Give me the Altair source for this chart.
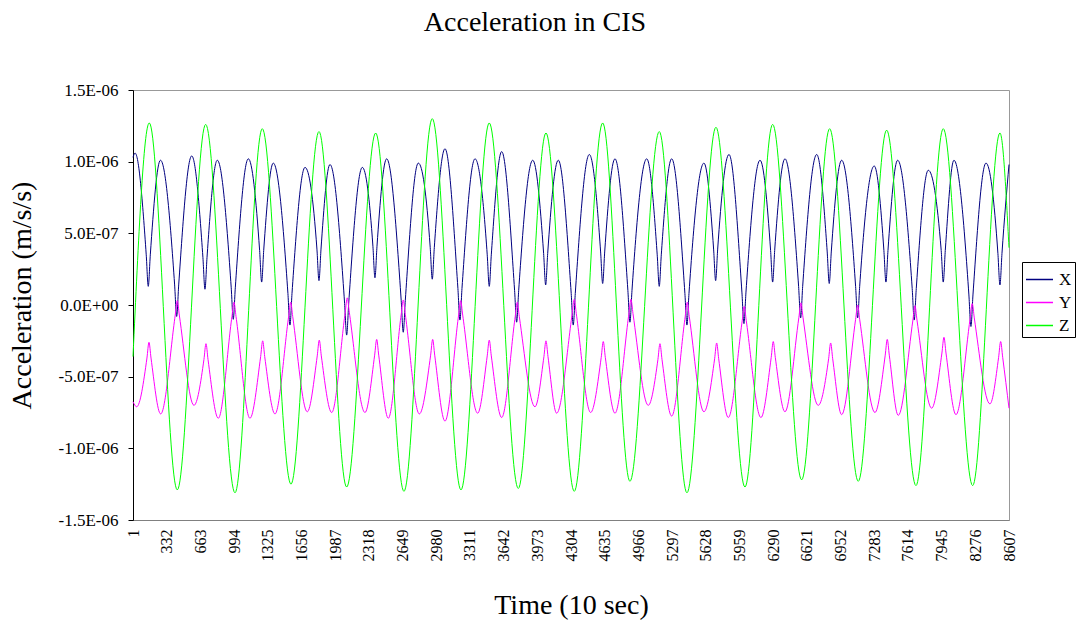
import altair as alt
import pandas as pd

FONT = "Liberation Serif"

# Sample number (one step = 10 s) and acceleration in units of 1e-6 m/s/s
X_TIME = [1, 21,
          131, 151, 171, 271, 410, 430, 450, 578, 688, 708, 728, 829,
          966, 986, 1006, 1134, 1245, 1265, 1285, 1379, 1523, 1543, 1563, 1691,
          1808, 1828, 1848, 1936, 2080, 2100, 2120, 2254, 2358, 2378, 2398, 2493,
          2636, 2656, 2676, 2804, 2921, 2941, 2961, 3066, 3193, 3213, 3233, 3361,
          3481, 3501, 3521, 3623, 3750, 3770, 3790, 3928, 4035, 4055, 4075, 4179,
          4306, 4326, 4346, 4484, 4595, 4615, 4635, 4736, 4863, 4883, 4903, 5048,
          5151, 5171, 5191, 5293, 5423, 5443, 5463, 5610, 5705, 5725, 5745, 5856,
          5983, 6003, 6023, 6161, 6265, 6285, 6305, 6406, 6540, 6560, 6580, 6718,
          6821, 6841, 6861, 6963, 7100, 7120, 7140, 7283, 7378, 7398, 7418, 7513,
          7656, 7676, 7696, 7814, 7941, 7961, 7981, 8066, 8213, 8233, 8253, 8381,
          8498, 8518, 8538, 8607]
X_ACC = [1.03, 1.06,
         0.35, 0.13, 0.35, 1.01, 0.14, -0.08, 0.14, 1.04, 0.33, 0.11, 0.33, 1.01,
         0.12, -0.10, 0.12, 1.02, 0.38, 0.16, 0.38, 0.99, 0.08, -0.14, 0.08, 0.96,
         0.39, 0.17, 0.39, 0.98, 0.01, -0.21, 0.01, 0.96, 0.41, 0.19, 0.41, 1.02,
         0.03, -0.19, 0.03, 0.99, 0.40, 0.18, 0.40, 1.09, 0.115, -0.105, 0.115, 1.02,
         0.35, 0.13, 0.35, 1.07, 0.10, -0.12, 0.10, 1.01, 0.36, 0.14, 0.36, 1.01,
         0.08, -0.14, 0.08, 1.05, 0.37, 0.15, 0.37, 1.02, 0.10, -0.12, 0.10, 1.02,
         0.35, 0.13, 0.35, 1.02, 0.08, -0.14, 0.08, 0.99, 0.39, 0.17, 0.39, 1.05,
         0.09, -0.13, 0.09, 1.01, 0.38, 0.16, 0.38, 1.02, 0.13, -0.09, 0.13, 1.05,
         0.37, 0.15, 0.37, 1.01, 0.13, -0.09, 0.13, 0.97, 0.38, 0.16, 0.38, 1.01,
         0.115, -0.105, 0.115, 0.94, 0.38, 0.16, 0.38, 1.01, 0.07, -0.15, 0.07, 0.99,
         0.36, 0.14, 0.36, 0.98]

Y_TIME = [1, 37,
          138, 158, 178, 273, 416, 436, 456, 600,
          698, 718, 738, 839, 973, 993, 1013, 1150,
          1255, 1275, 1295, 1396, 1530, 1550, 1570, 1713,
          1811, 1831, 1851, 1953, 2086, 2106, 2126, 2280,
          2375, 2395, 2415, 2509, 2636, 2656, 2676, 2814,
          2925, 2945, 2965, 3066, 3200, 3220, 3240, 3387,
          3481, 3501, 3521, 3623, 3756, 3776, 3796, 3950,
          4038, 4058, 4078, 4163, 4316, 4336, 4356, 4497,
          4601, 4621, 4641, 4736, 4873, 4893, 4913, 5063,
          5158, 5178, 5198, 5293, 5426, 5446, 5466, 5610,
          5715, 5735, 5755, 5849, 5986, 6006, 6026, 6170,
          6271, 6291, 6311, 6406, 6543, 6563, 6583, 6733,
          6835, 6855, 6875, 6963, 7100, 7120, 7140, 7290,
          7391, 7411, 7431, 7519, 7663, 7683, 7703, 7847,
          7948, 7968, 7988, 8086, 8226, 8246, 8266, 8420,
          8505, 8525, 8545, 8607]
Y_ACC = [-0.675, -0.71,
         -0.37, -0.26, -0.37, -0.76, -0.07, 0.03, -0.07, -0.70,
         -0.38, -0.27, -0.38, -0.79, -0.08, 0.02, -0.08, -0.79,
         -0.36, -0.25, -0.36, -0.76, -0.08, 0.02, -0.08, -0.745,
         -0.355, -0.245, -0.355, -0.75, -0.05, 0.05, -0.05, -0.75,
         -0.35, -0.24, -0.35, -0.79, -0.065, 0.035, -0.065, -0.76,
         -0.35, -0.24, -0.35, -0.81, -0.07, 0.03, -0.07, -0.755,
         -0.355, -0.245, -0.355, -0.785, -0.08, 0.02, -0.08, -0.71,
         -0.36, -0.25, -0.36, -0.755, -0.06, 0.04, -0.06, -0.75,
         -0.365, -0.255, -0.365, -0.755, -0.06, 0.04, -0.06, -0.70,
         -0.38, -0.27, -0.38, -0.775, -0.08, 0.02, -0.08, -0.745,
         -0.375, -0.265, -0.375, -0.785, -0.11, -0.01, -0.11, -0.785,
         -0.365, -0.255, -0.365, -0.745, -0.085, 0.015, -0.085, -0.70,
         -0.375, -0.265, -0.375, -0.765, -0.10, 0.0, -0.10, -0.75,
         -0.35, -0.24, -0.35, -0.77, -0.105, -0.005, -0.105, -0.72,
         -0.335, -0.225, -0.335, -0.765, -0.09, 0.01, -0.09, -0.69,
         -0.365, -0.255, -0.365, -0.72]

Z_TIME = [1, 161, 436, 715, 1003, 1271, 1553, 1828, 2100, 2385, 2663,
          2941, 3223, 3501, 3786, 4058, 4336, 4615, 4883, 5171, 5443,
          5728, 6013, 6285, 6570, 6845, 7126, 7405, 7693, 7961, 8250,
          8518, 8607]
Z_ACC = [-0.36, 1.27, -1.29, 1.26, -1.31, 1.23, -1.25, 1.21, -1.27, 1.20, -1.30,
         1.30, -1.29, 1.27, -1.28, 1.20, -1.30, 1.27, -1.23, 1.21, -1.31,
         1.24, -1.27, 1.26, -1.22, 1.23, -1.23, 1.22, -1.26, 1.23, -1.26,
         1.20, 0.40]

SERIES = ["X", "Y", "Z"]
COLORS = ["#000080", "#FF00FF", "#00FF00"]

TIME_TICKS = [1, 332, 663, 994, 1325, 1656, 1987, 2318, 2649, 2980, 3311,
              3642, 3973, 4304, 4635, 4966, 5297, 5628, 5959, 6290, 6621,
              6952, 7283, 7614, 7945, 8276, 8607]
ACC_TICKS = [-1.5e-6, -1.0e-6, -5e-7, 0.0, 5e-7, 1.0e-6, 1.5e-6]

rows = []
for name, times, accs in zip(SERIES, (X_TIME, Y_TIME, Z_TIME), (X_ACC, Y_ACC, Z_ACC)):
    for t, a in zip(times, accs):
        rows.append({"time": t, "acc": a * 1e-6, "axis": name})
df = pd.DataFrame(rows)

# Excel-style scientific labels such as 1.5E-06 and 0.0E+00
EXP = "floor(log(abs(datum.value)) / LN10 + 1e-6)"
SCI_LABEL = (
    "datum.value == 0 ? '0.0E+00' : "
    "(datum.value < 0 ? '-' : '') + "
    f"format(abs(datum.value) / pow(10, {EXP}), '.1f') + 'E-0' + (-{EXP})"
)

chart = (
    alt.Chart(df)
    .mark_line(interpolate="monotone", strokeWidth=1)
    .encode(
        x=alt.X(
            "time:Q",
            scale=alt.Scale(domain=[1, 8607], nice=False, zero=False),
            axis=alt.Axis(
                values=TIME_TICKS,
                format="d",
                labelAngle=270,
                labelFontSize=16,
                labelPadding=9,
                labelFlush=False,
                labelOverlap=False,
                ticks=False,
                grid=False,
                domainColor="#808080",
                title="Time (10 sec)",
                titleFontSize=28,
                titleY=93,
                titleBaseline="alphabetic",
            ),
        ),
        y=alt.Y(
            "acc:Q",
            scale=alt.Scale(domain=[-1.5e-6, 1.5e-6], nice=False, zero=False),
            axis=alt.Axis(
                values=ACC_TICKS,
                labelExpr=SCI_LABEL,
                labelFontSize=17,
                labelPadding=10,
                tickSize=5,
                tickColor="black",
                domainColor="black",
                grid=False,
                title="Acceleration (m/s/s)",
                titleFontSize=28,
                titleAngle=270,
                titleX=-103,
                titleY=205,
                titleAlign="center",
                titleBaseline="alphabetic",
            ),
        ),
        color=alt.Color(
            "axis:N",
            scale=alt.Scale(domain=SERIES, range=COLORS),
            legend=alt.Legend(
                title=None,
                orient="none",
                legendX=889,
                legendY=172,
                symbolType="stroke",
                symbolSize=729,
                symbolStrokeWidth=1.5,
                labelFont=FONT,
                labelFontSize=17,
                labelColor="black",
                labelOffset=5,
                strokeColor="black",
                fillColor="white",
                padding=3,
                rowPadding=0,
            ),
        ),
    )
    .properties(
        width=876,
        height=430,
        autosize=alt.AutoSizeParams(type="none"),
        padding={"left": 133, "top": 90, "right": 68, "bottom": 103},
        background="white",
        title=alt.TitleParams(
            "Acceleration in CIS",
            font=FONT,
            fontSize=28,
            fontWeight="normal",
            color="black",
            anchor="middle",
            dx=-36,
            offset=44,
        ),
    )
    .configure_view(stroke="#999999", strokeWidth=1)
    .configure_axis(
        labelFont=FONT,
        titleFont=FONT,
        labelColor="black",
        titleColor="black",
        titleFontWeight="normal",
    )
)

chart.save("out.html", embed_options={"renderer": "svg", "actions": False})
